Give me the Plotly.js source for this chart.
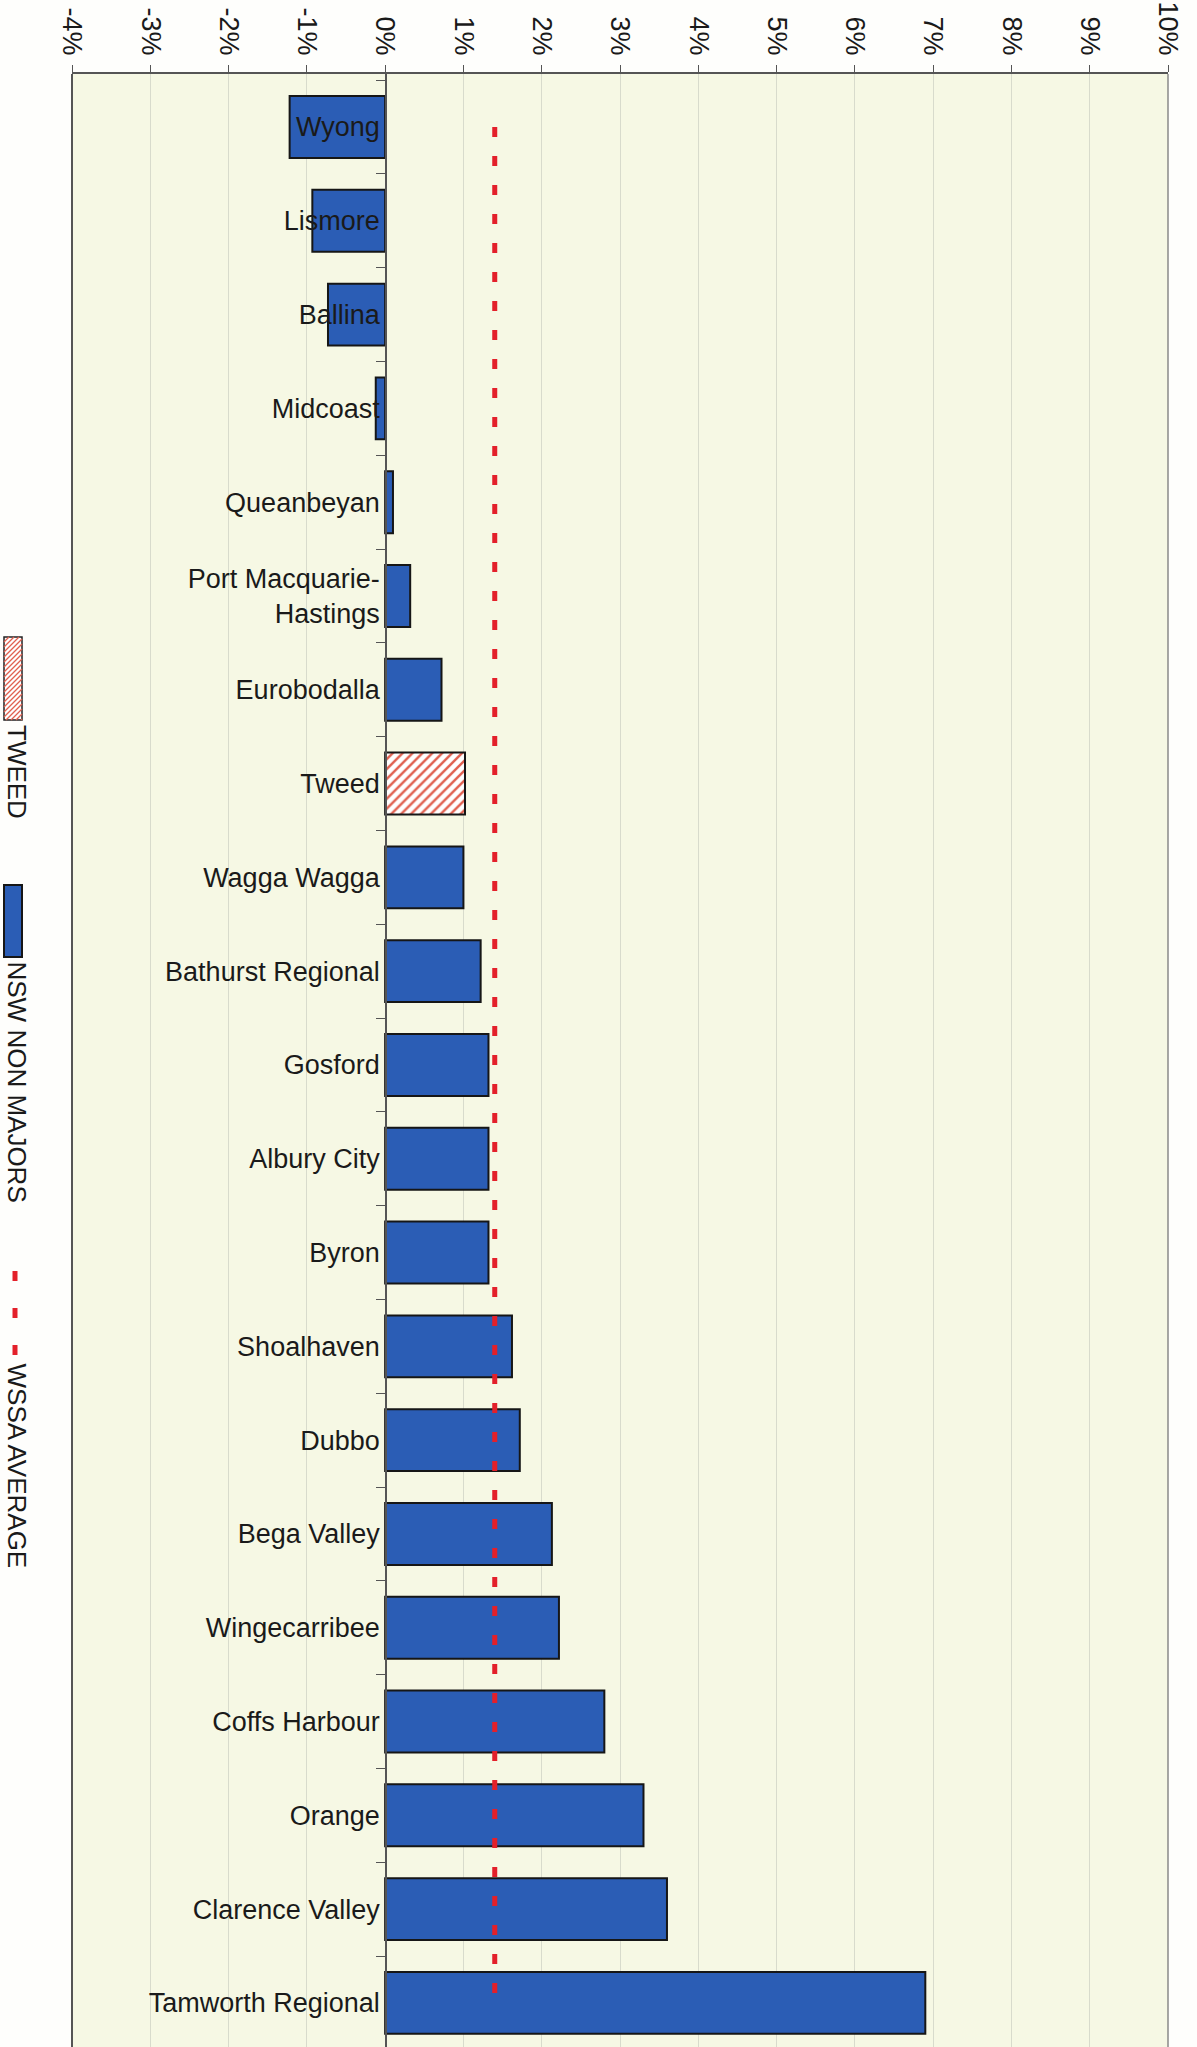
<!DOCTYPE html>
<html><head><meta charset="utf-8">
<script src="https://cdn.plot.ly/plotly-3.0.1.min.js"></script>
<style>body{margin:0;background:#fefefc}#c{width:1197px;height:2047px}</style>
</head><body><div id="c"></div>
<script>
// ---- data ----
const councils = ['Wyong','Lismore','Ballina','Midcoast','Queanbeyan','Port Macquarie-<br>Hastings','Eurobodalla','Tweed','Wagga Wagga','Bathurst Regional','Gosford','Albury City','Byron','Shoalhaven','Dubbo','Bega Valley','Wingecarribee','Coffs Harbour','Orange','Clarence Valley','Tamworth Regional'];
const growthPct = [-1.22,-0.93,-0.73,-0.12,0.10,0.32,0.72,1.02,1.00,1.22,1.32,1.32,1.32,1.62,1.72,2.13,2.22,2.80,3.30,3.60,6.90];
const tweedName = 'Tweed';
const wssaAverage = 1.4;
const xTickVals = [-4,-3,-2,-1,0,1,2,3,4,5,6,7,8,9,10];
const xTickText = ['-4%','-3%','-2%','-1%','0%','1%','2%','3%','4%','5%','6%','7%','8%','9%','10%'];
const legendNames = ['TWEED','NSW NON MAJORS','WSSA AVERAGE'];

// ---- build ----
const nswY = [], nswX = [], twY = [], twX = [];
councils.forEach((c,i)=>{ if(c===tweedName){twY.push(c);twX.push(growthPct[i]);} else {nswY.push(c);nswX.push(growthPct[i]);} });

const FONT = 'Liberation Sans, Arial, sans-serif';
const W=1197,H=2047, ML=72, MR=29, MT=74, MB=0;
const pw=W-ML-MR, ph=H-MT-MB;
const px=X=>(X-ML)/pw, py=Y=>1-(Y-MT)/ph;

const traces = [
 {type:'bar', orientation:'h', name:legendNames[1], y:nswY, x:nswX, width:0.66,
  marker:{color:'#2b5db5', line:{color:'#161616', width:2}}},
 {type:'bar', orientation:'h', name:legendNames[0], y:twY, x:twX, width:0.66,
  marker:{color:'#ffffff', line:{color:'#161616', width:2},
   pattern:{shape:'/', fgcolor:'#e0604f', bgcolor:'#ffffff', size:7, solidity:0.35}}},
 {type:'scatter', mode:'lines', name:legendNames[2], x:[wssaAverage,wssaAverage], y:[councils[0],councils[councils.length-1]],
  line:{color:'#e3202a', width:5, dash:'10px,19px'}}
];

const shapes = [
 {type:'line', xref:'paper', yref:'paper', x0:0, x1:0, y0:0, y1:1, line:{color:'#555', width:2}},
 {type:'line', xref:'paper', yref:'paper', x0:1, x1:1, y0:0, y1:1, line:{color:'#8a8a8a', width:1.5}},
];
// legend swatches (styling only)
const tx0=4, tx1=22, ty0=637, ty1=720;
shapes.push({type:'rect', xref:'paper', yref:'paper', x0:px(tx0), x1:px(tx1), y0:py(ty1), y1:py(ty0), fillcolor:'#ffffff', line:{color:'#222', width:1.5}});
for(let k=-(tx1-tx0); k<(ty1-ty0); k+=5){
  let pts=[];
  for(const X of [tx0,tx1]){ const Y=ty0+k+(tx1-X); if(Y>=ty0&&Y<=ty1) pts.push([X,Y]); }
  for(const Y of [ty0,ty1]){ const X=tx1-(Y-ty0-k); if(X>tx0&&X<tx1) pts.push([X,Y]); }
  if(pts.length>=2) shapes.push({type:'line', xref:'paper', yref:'paper', x0:px(pts[0][0]), y0:py(pts[0][1]), x1:px(pts[1][0]), y1:py(pts[1][1]), line:{color:'#e0604f', width:1.2}});
}
shapes.push({type:'rect', xref:'paper', yref:'paper', x0:px(4), x1:px(22), y0:py(957), y1:py(885), fillcolor:'#2b5db5', line:{color:'#161616', width:2}});
shapes.push({type:'line', xref:'paper', yref:'paper', x0:px(15), x1:px(15), y0:py(1355), y1:py(1271), line:{color:'#e3202a', width:5, dash:'10px,27px'}});

const annotations = [
 {text:legendNames[0], x:px(17), y:py(724), yanchor:'top'},
 {text:legendNames[1], x:px(17), y:py(960), yanchor:'top'},
 {text:legendNames[2], x:px(17), y:py(1362), yanchor:'top'},
].map(a=>Object.assign(a,{xref:'paper', yref:'paper', xanchor:'center', textangle:90, showarrow:false, borderpad:0, font:{family:FONT, size:26, color:'#1a1a1a'}}));

const layout = {
 width:W, height:H, margin:{l:ML, r:MR, t:MT, b:MB},
 paper_bgcolor:'#fefefc', plot_bgcolor:'#f6f8e4',
 showlegend:false, barmode:'overlay', font:{family:FONT, size:27, color:'#1a1a1a'},
 xaxis:{side:'top', range:[-4,10], tickmode:'array', tickvals:xTickVals, ticktext:xTickText, tickangle:90,
  ticks:'outside', ticklen:7, tickcolor:'#555', showgrid:true, gridcolor:'#d8dbcc', gridwidth:1,
  showline:true, linecolor:'#555', linewidth:2, zeroline:false, tickfont:{family:FONT, size:27, color:'#1a1a1a'}},
 yaxis:{type:'category', categoryorder:'array', categoryarray:councils, range:[20.47,-0.565],
  anchor:'free', position:4/14, ticks:'outside', tickson:'boundaries', ticklen:9, tickcolor:'#555',
  showline:true, linecolor:'#555', linewidth:1.5, showgrid:false, zeroline:false,
  tickfont:{family:FONT, size:27, color:'#1a1a1a'}},
 shapes, annotations
};
Plotly.newPlot('c', traces, layout, {displayModeBar:false, staticPlot:true});
</script></body></html>
